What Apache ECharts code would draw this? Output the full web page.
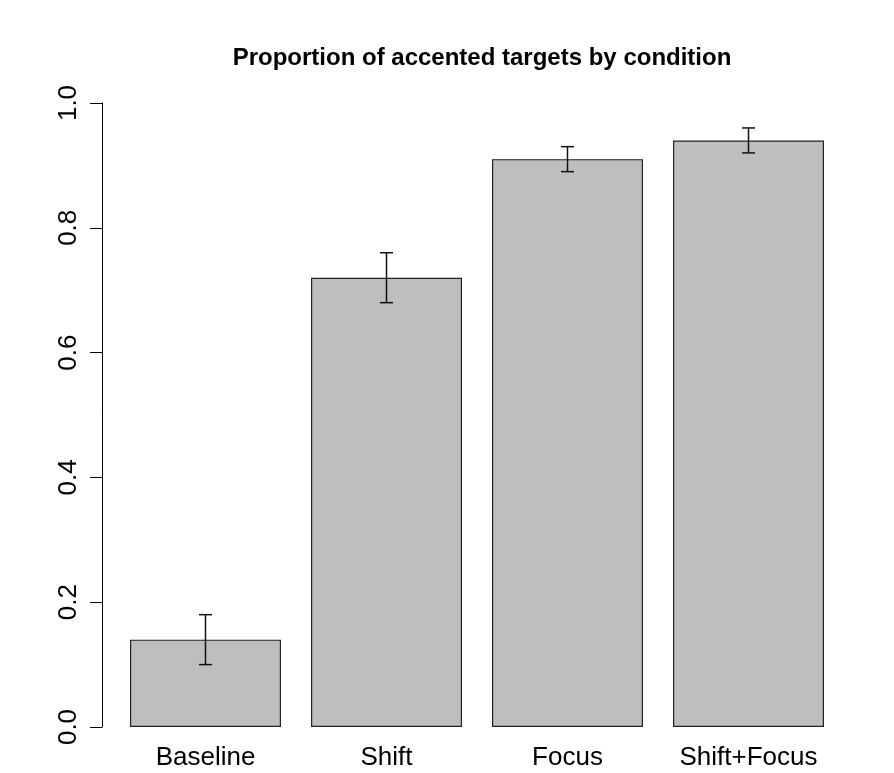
<!DOCTYPE html>
<html>
<head>
<meta charset="utf-8">
<script src="https://cdn.jsdelivr.net/npm/echarts@6/dist/echarts.min.js"></script>
<style>
html,body{margin:0;padding:0;background:#fff;}
#chart{width:894px;height:773px;}
</style>
</head>
<body>
<div id="chart"></div>
<script>
const categories = ["Baseline", "Shift", "Focus", "Shift+Focus"];
const proportions = [0.14, 0.72, 0.91, 0.94];
const errLow = [0.10, 0.68, 0.89, 0.92];
const errHigh = [0.18, 0.76, 0.93, 0.96];
const yTicks = [0.0, 0.2, 0.4, 0.6, 0.8, 1.0];

const FONT = "Liberation Sans, Arial, sans-serif";
const chart = echarts.init(document.getElementById('chart'), null, {renderer: 'canvas'});

const errData = categories.map((c, i) => [i, errLow[i], errHigh[i]]);

chart.setOption({
  animation: false,
  backgroundColor: '#ffffff',
  title: {
    text: 'Proportion of accented targets by condition',
    left: 477,
    textAlign: 'center',
    top: 41,
    textStyle: {fontFamily: FONT, fontWeight: 'bold', fontSize: 24, color: '#000'}
  },
  grid: {left: 115, right: 55, top: 103, bottom: 46, containLabel: false},
  xAxis: {
    type: 'category',
    data: categories,
    axisLine: {show: false},
    axisTick: {show: false},
    axisLabel: {fontFamily: FONT, fontSize: 26, color: '#000', margin: 18}
  },
  yAxis: {
    type: 'value',
    min: yTicks[0],
    max: yTicks[yTicks.length - 1],
    interval: 0.2,
    offset: 13,
    splitLine: {show: false},
    axisLine: {show: true, lineStyle: {color: '#000', width: 1}},
    axisTick: {show: true, length: 12, lineStyle: {color: '#000', width: 1}},
    axisLabel: {
      fontFamily: FONT, fontSize: 26, color: '#000', rotate: 90, margin: 20,
      formatter: v => v.toFixed(1)
    }
  },
  series: [
    {
      type: 'bar',
      data: proportions,
      barWidth: 151,
      itemStyle: {color: '#bebebe', borderColor: '#222', borderWidth: 1.2}
    },
    {
      type: 'custom',
      data: errData,
      z: 10,
      renderItem: function (params, api) {
        const x = api.value(0);
        const lo = api.coord([x, api.value(1)]);
        const hi = api.coord([x, api.value(2)]);
        const hw = 6.5;
        const style = {stroke: '#111', lineWidth: 1.5};
        return {
          type: 'group',
          children: [
            {type: 'line', shape: {x1: lo[0], y1: lo[1], x2: hi[0], y2: hi[1]}, style: style},
            {type: 'line', shape: {x1: lo[0] - hw, y1: lo[1], x2: lo[0] + hw, y2: lo[1]}, style: style},
            {type: 'line', shape: {x1: hi[0] - hw, y1: hi[1], x2: hi[0] + hw, y2: hi[1]}, style: style}
          ]
        };
      }
    }
  ]
});
</script>
</body>
</html>
